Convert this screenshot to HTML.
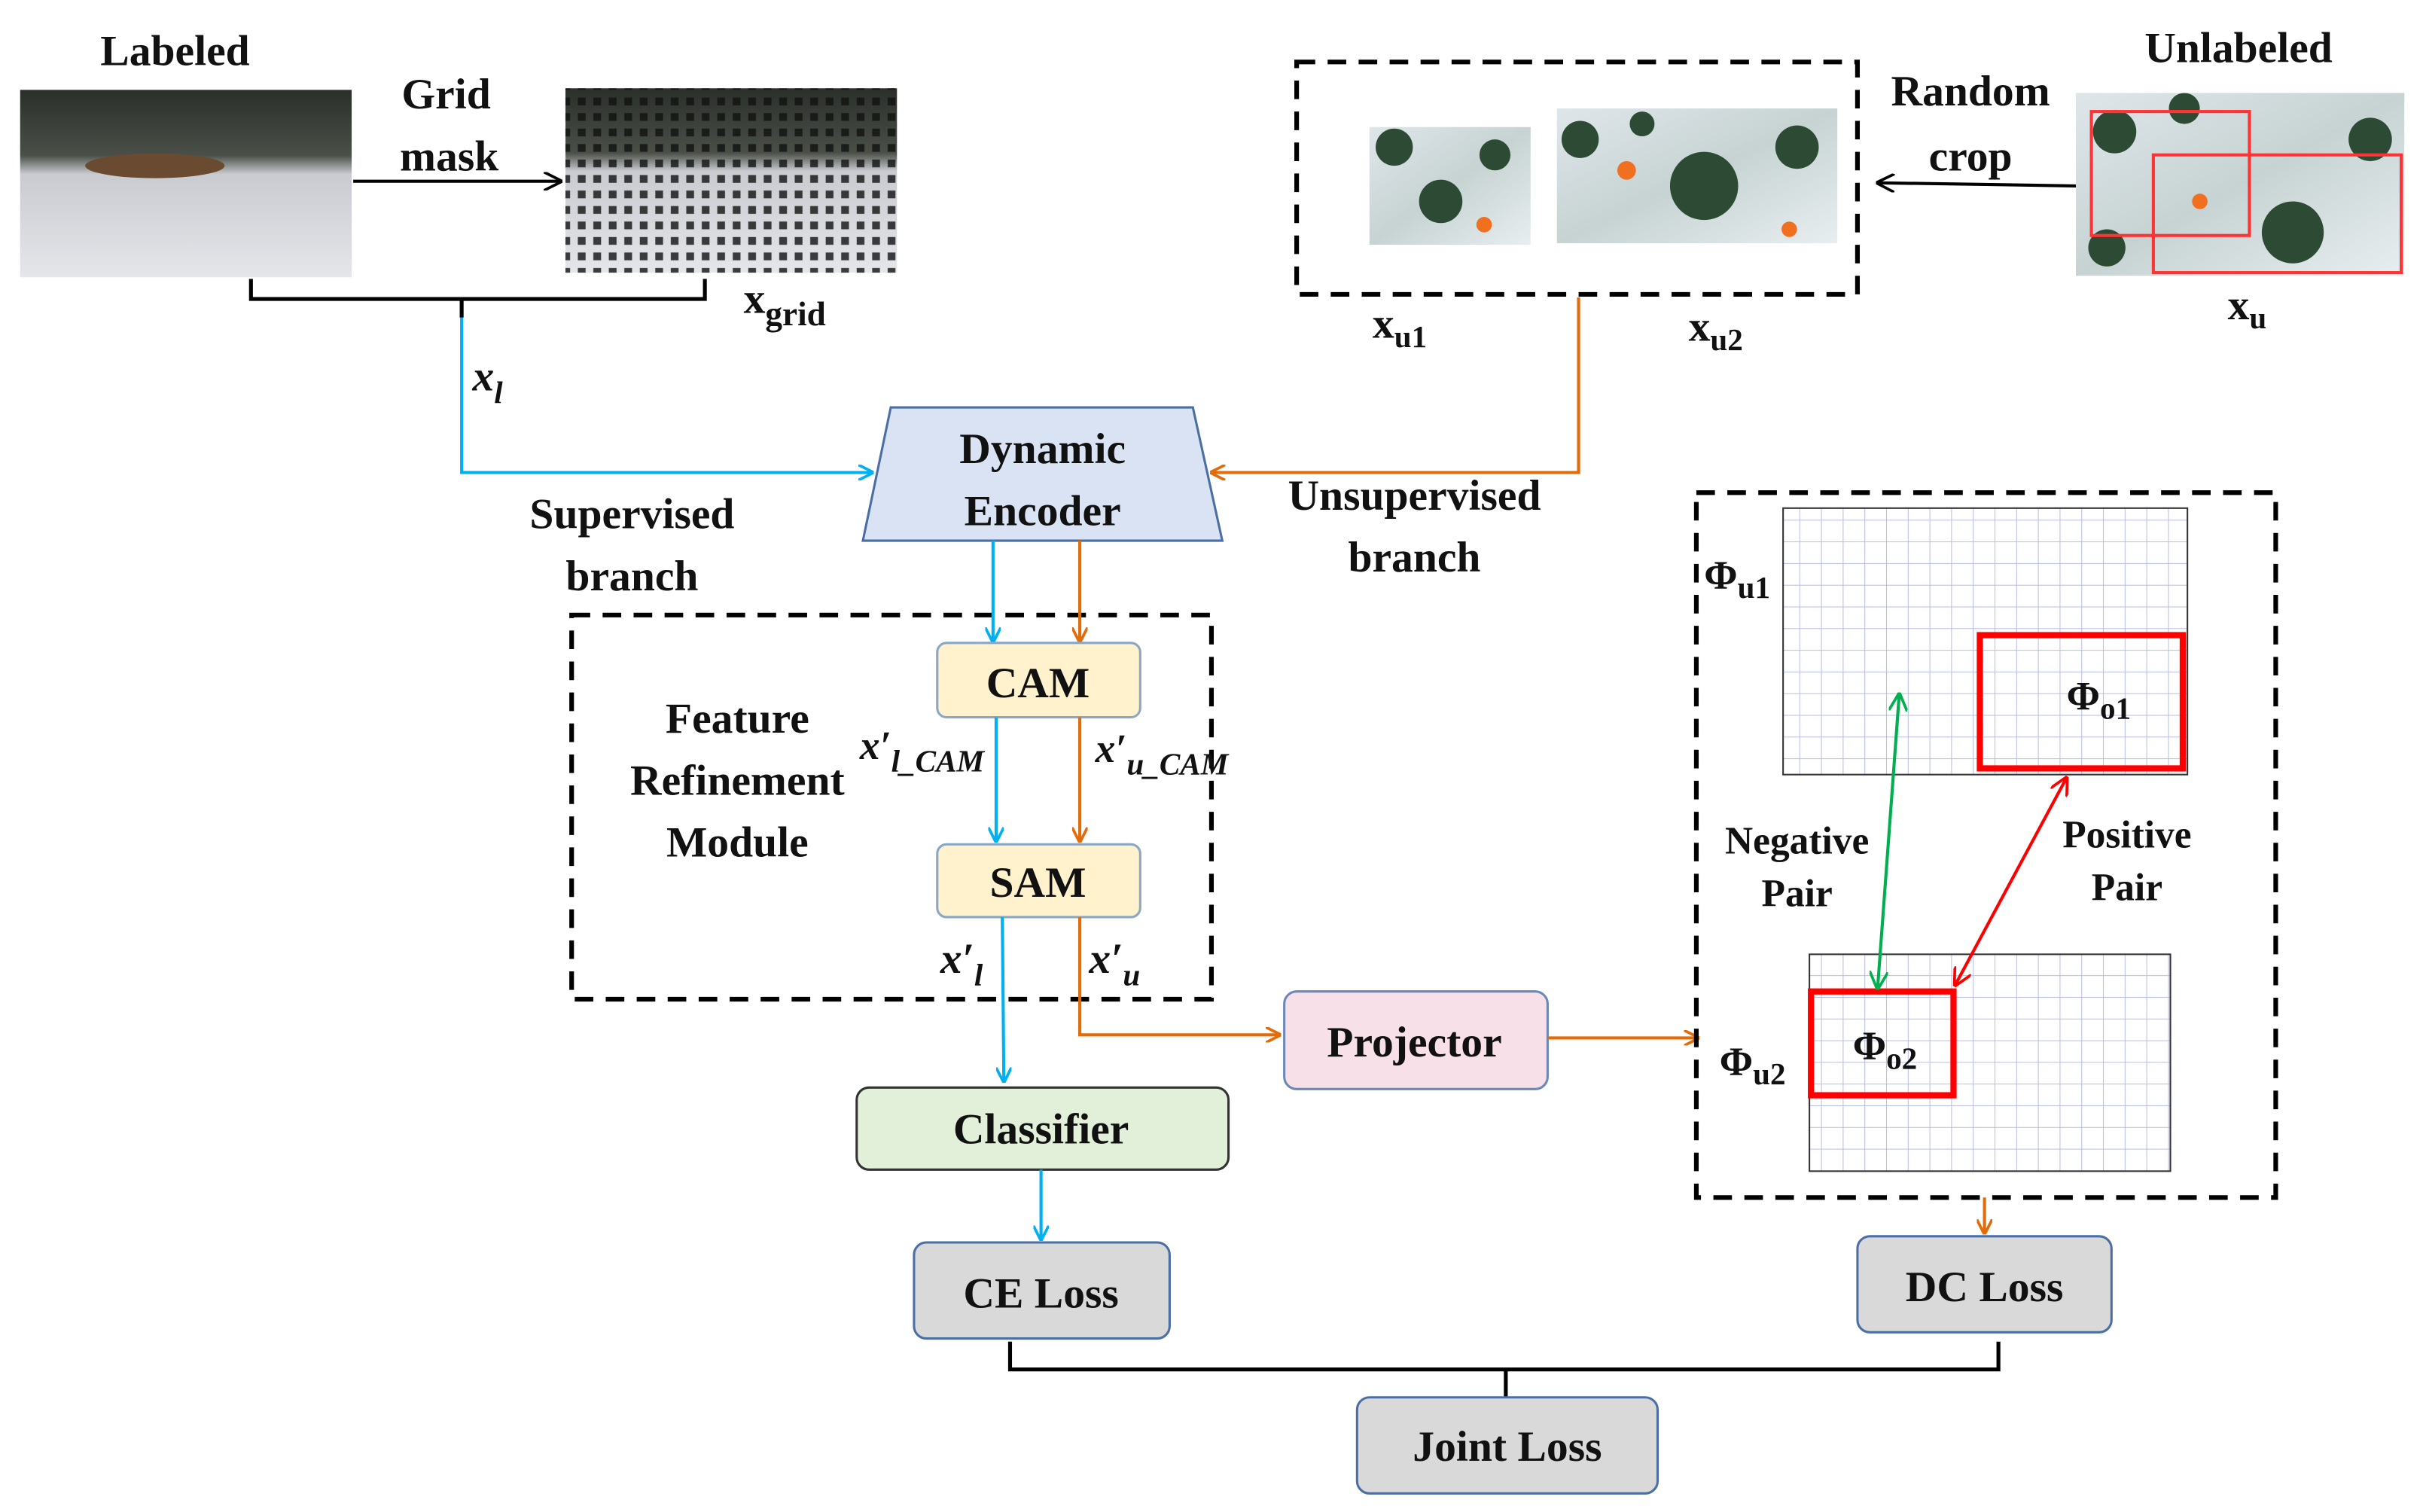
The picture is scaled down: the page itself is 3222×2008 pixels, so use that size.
<!DOCTYPE html>
<html><head><meta charset="utf-8"><style>
html,body{margin:0;padding:0;background:#fff;}
svg{display:block;}
text{font-family:"Liberation Serif",serif;font-weight:bold;fill:#111;}
</style></head><body>
<svg width="3222" height="2008" viewBox="0 0 1566 976" preserveAspectRatio="none" xmlns="http://www.w3.org/2000/svg">
<defs>
<marker id="ab" markerWidth="10" markerHeight="10" refX="9" refY="5" orient="auto" markerUnits="userSpaceOnUse"><path d="M0,0 L10,5 L0,10" fill="none" stroke="#00b0f0" stroke-width="1.8"/></marker>
<marker id="ao" markerWidth="10" markerHeight="10" refX="9" refY="5" orient="auto" markerUnits="userSpaceOnUse"><path d="M0,0 L10,5 L0,10" fill="none" stroke="#e26b0a" stroke-width="1.8"/></marker>
<marker id="ak" markerWidth="12" markerHeight="12" refX="11" refY="6" orient="auto" markerUnits="userSpaceOnUse"><path d="M0,0 L12,6 L0,12" fill="none" stroke="#000" stroke-width="1.8"/></marker>
<marker id="ag" markerWidth="12" markerHeight="12" refX="11" refY="6" orient="auto-start-reverse" markerUnits="userSpaceOnUse"><path d="M0,0 L12,6 L0,12" fill="none" stroke="#00b050" stroke-width="1.8"/></marker>
<marker id="ar" markerWidth="12" markerHeight="12" refX="11" refY="6" orient="auto-start-reverse" markerUnits="userSpaceOnUse"><path d="M0,0 L12,6 L0,12" fill="none" stroke="#f00" stroke-width="1.8"/></marker>
<pattern id="grid" width="14" height="14" patternUnits="userSpaceOnUse"><path d="M14,0 V14 M0,14 H14" stroke="#b8bde8" stroke-width="1"/></pattern>
<pattern id="dots" width="10" height="10" patternUnits="userSpaceOnUse"><rect x="3" y="3" width="5" height="5" fill="#111"/></pattern>
<linearGradient id="snow" x1="0" y1="0" x2="0" y2="1"><stop offset="0" stop-color="#2a2f2a"/><stop offset="0.35" stop-color="#4a4f48"/><stop offset="0.45" stop-color="#c9cbd0"/><stop offset="1" stop-color="#e4e6ea"/></linearGradient>
<linearGradient id="aer" x1="0" y1="0" x2="1" y2="1"><stop offset="0" stop-color="#dfe6ea"/><stop offset="0.5" stop-color="#c7d3d3"/><stop offset="1" stop-color="#e8eef0"/></linearGradient>
</defs>

<text x="113" y="42" font-size="28" text-anchor="middle">Labeled</text>
<rect x="13" y="58" width="214" height="121" fill="url(#snow)"/>
<ellipse cx="100" cy="107" rx="45" ry="8" fill="#6a4a30"/>
<line x1="228" y1="117" x2="362" y2="117" stroke="#000" stroke-width="2" marker-end="url(#ak)"/>
<text x="288" y="70" font-size="28" text-anchor="middle">Grid</text>
<text x="290" y="110" font-size="28" text-anchor="middle">mask</text>
<rect x="365" y="57" width="214" height="119" fill="url(#snow)"/>
<rect x="365" y="57" width="214" height="119" fill="url(#dots)" opacity="0.8"/>
<path d="M162,180 V193 H455 V180 M298,193 V205" fill="none" stroke="#000" stroke-width="2.5"/>
<text x="480" y="202" font-size="28">x<tspan font-size="22" dy="8">grid</tspan></text>
<text x="305" y="252" font-size="28" font-style="italic">x<tspan font-size="20" dy="8">l</tspan></text>
<path d="M298,205 V305 H563" fill="none" stroke="#00b0f0" stroke-width="2" marker-end="url(#ab)"/>

<rect x="837" y="40" width="362" height="150" fill="none" stroke="#000" stroke-width="3" stroke-dasharray="12,8"/>
<rect x="884" y="82" width="104" height="76" fill="url(#aer)"/>
<rect x="1005" y="70" width="181" height="87" fill="url(#aer)"/>
<g fill="#2d4a35"><circle cx="900" cy="95" r="12"/><circle cx="930" cy="130" r="14"/><circle cx="965" cy="100" r="10"/><circle cx="1020" cy="90" r="12"/><circle cx="1100" cy="120" r="22"/><circle cx="1160" cy="95" r="14"/><circle cx="1060" cy="80" r="8"/></g>
<circle cx="958" cy="145" r="5" fill="#f07020"/><circle cx="1050" cy="110" r="6" fill="#f07020"/><circle cx="1155" cy="148" r="5" fill="#f07020"/>
<text x="886" y="218" font-size="28">x<tspan font-size="20" dy="6">u1</tspan></text>
<text x="1090" y="220" font-size="28">x<tspan font-size="20" dy="6">u2</tspan></text>
<text x="1272" y="68" font-size="28" text-anchor="middle">Random</text>
<text x="1272" y="110" font-size="28" text-anchor="middle">crop</text>
<line x1="1340" y1="120" x2="1212" y2="118" stroke="#000" stroke-width="2" marker-end="url(#ak)"/>
<text x="1445" y="40" font-size="28" text-anchor="middle">Unlabeled</text>
<rect x="1340" y="60" width="212" height="118" fill="url(#aer)"/>
<g fill="#2d4a35"><circle cx="1365" cy="85" r="14"/><circle cx="1410" cy="70" r="10"/><circle cx="1480" cy="150" r="20"/><circle cx="1530" cy="90" r="14"/><circle cx="1360" cy="160" r="12"/></g>
<circle cx="1420" cy="130" r="5" fill="#f07020"/>
<rect x="1350" y="72" width="102" height="80" fill="none" stroke="#f33" stroke-width="2"/>
<rect x="1390" y="100" width="160" height="76" fill="none" stroke="#f33" stroke-width="2"/>
<text x="1438" y="206" font-size="28">x<tspan font-size="20" dy="6">u</tspan></text>
<path d="M1019,192 V305 H782" fill="none" stroke="#e26b0a" stroke-width="2" marker-end="url(#ao)"/>

<polygon points="575,263 770,263 789,349 557,349" fill="#dae3f3" stroke="#4a6fa5" stroke-width="1.5"/>
<text x="673" y="299" font-size="28" text-anchor="middle">Dynamic</text>
<text x="673" y="339" font-size="28" text-anchor="middle">Encoder</text>
<text x="408" y="341" font-size="28" text-anchor="middle">Supervised</text>
<text x="408" y="381" font-size="28" text-anchor="middle">branch</text>
<text x="913" y="329" font-size="28" text-anchor="middle">Unsupervised</text>
<text x="913" y="369" font-size="28" text-anchor="middle">branch</text>

<rect x="369" y="397" width="413" height="248" fill="none" stroke="#000" stroke-width="3" stroke-dasharray="12,8"/>
<text x="476" y="473" font-size="28" text-anchor="middle">Feature</text>
<text x="476" y="513" font-size="28" text-anchor="middle">Refinement</text>
<text x="476" y="553" font-size="28" text-anchor="middle">Module</text>
<line x1="641" y1="349" x2="641" y2="414" stroke="#00b0f0" stroke-width="2" marker-end="url(#ab)"/>
<line x1="697" y1="349" x2="697" y2="414" stroke="#e26b0a" stroke-width="2" marker-end="url(#ao)"/>
<rect x="605" y="415" width="131" height="48" rx="6" fill="#fff2cc" stroke="#8aa7c8" stroke-width="1.5"/>
<text x="670" y="450" font-size="28" text-anchor="middle">CAM</text>
<line x1="643" y1="463" x2="643" y2="543" stroke="#00b0f0" stroke-width="2" marker-end="url(#ab)"/>
<line x1="697" y1="463" x2="697" y2="543" stroke="#e26b0a" stroke-width="2" marker-end="url(#ao)"/>
<rect x="605" y="545" width="131" height="47" rx="6" fill="#fff2cc" stroke="#8aa7c8" stroke-width="1.5"/>
<text x="670" y="579" font-size="28" text-anchor="middle">SAM</text>
<text x="555" y="490" font-size="26" font-style="italic">x′<tspan font-size="20" dy="8">l_CAM</tspan></text>
<text x="707" y="492" font-size="26" font-style="italic">x′<tspan font-size="20" dy="8">u_CAM</tspan></text>
<text x="607" y="628" font-size="28" font-style="italic">x′<tspan font-size="20" dy="8">l</tspan></text>
<text x="703" y="628" font-size="28" font-style="italic">x′<tspan font-size="20" dy="8">u</tspan></text>
<line x1="647" y1="592" x2="648" y2="698" stroke="#00b0f0" stroke-width="2" marker-end="url(#ab)"/>
<path d="M697,592 V668 H826" fill="none" stroke="#e26b0a" stroke-width="2" marker-end="url(#ao)"/>

<rect x="829" y="640" width="170" height="63" rx="8" fill="#f8e0e8" stroke="#6a88b8" stroke-width="1.5"/>
<text x="913" y="682" font-size="28" text-anchor="middle">Projector</text>
<line x1="999" y1="670" x2="1096" y2="670" stroke="#e26b0a" stroke-width="2" marker-end="url(#ao)"/>

<rect x="553" y="702" width="240" height="53" rx="8" fill="#e2f0d9" stroke="#333" stroke-width="1.5"/>
<text x="672" y="738" font-size="28" text-anchor="middle">Classifier</text>
<line x1="672" y1="755" x2="672" y2="800" stroke="#00b0f0" stroke-width="2" marker-end="url(#ab)"/>

<rect x="590" y="802" width="165" height="62" rx="8" fill="#d9d9d9" stroke="#4a6fa5" stroke-width="1.5"/>
<text x="672" y="844" font-size="28" text-anchor="middle">CE Loss</text>
<rect x="1199" y="798" width="164" height="62" rx="8" fill="#d9d9d9" stroke="#4a6fa5" stroke-width="1.5"/>
<text x="1281" y="840" font-size="28" text-anchor="middle">DC Loss</text>
<path d="M652,866 V884 H1290 V866 M972,884 V902" fill="none" stroke="#000" stroke-width="2.5"/>
<rect x="876" y="902" width="194" height="62" rx="8" fill="#d9d9d9" stroke="#4a6fa5" stroke-width="1.5"/>
<text x="973" y="943" font-size="28" text-anchor="middle">Joint Loss</text>

<rect x="1095" y="318" width="374" height="455" fill="none" stroke="#000" stroke-width="3" stroke-dasharray="12,8"/>
<rect x="1151" y="328" width="261" height="172" fill="url(#grid)" stroke="#333" stroke-width="1"/>
<rect x="1278" y="410" width="131" height="86" fill="none" stroke="#f00" stroke-width="4"/>
<text x="1334" y="458" font-size="26">Φ<tspan font-size="20" dy="6">o1</tspan></text>
<text x="1100" y="380" font-size="26">Φ<tspan font-size="20" dy="6">u1</tspan></text>
<rect x="1168" y="616" width="233" height="140" fill="url(#grid)" stroke="#333" stroke-width="1"/>
<rect x="1169" y="640" width="92" height="67" fill="none" stroke="#f00" stroke-width="4"/>
<text x="1196" y="684" font-size="26">Φ<tspan font-size="20" dy="6">o2</tspan></text>
<text x="1110" y="694" font-size="26">Φ<tspan font-size="20" dy="6">u2</tspan></text>
<line x1="1226" y1="448" x2="1212" y2="638" stroke="#00b050" stroke-width="2" marker-start="url(#ag)" marker-end="url(#ag)"/>
<line x1="1334" y1="502" x2="1262" y2="636" stroke="#f00" stroke-width="2" marker-start="url(#ar)" marker-end="url(#ar)"/>
<text x="1160" y="551" font-size="25" text-anchor="middle">Negative</text>
<text x="1160" y="585" font-size="25" text-anchor="middle">Pair</text>
<text x="1373" y="547" font-size="25" text-anchor="middle">Positive</text>
<text x="1373" y="581" font-size="25" text-anchor="middle">Pair</text>
<line x1="1281" y1="773" x2="1281" y2="796" stroke="#e26b0a" stroke-width="2" marker-end="url(#ao)"/>
</svg>
</body></html>
